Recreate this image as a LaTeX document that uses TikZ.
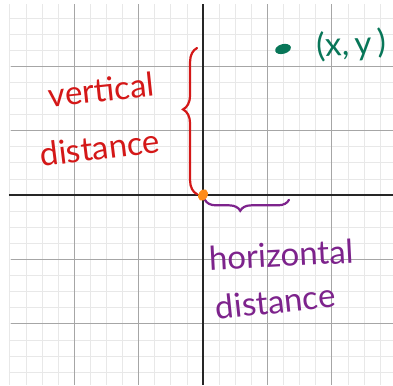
\documentclass[tikz,border=0pt]{standalone}
\usepackage{fontspec}
\setmainfont{Lato}
\usetikzlibrary{decorations.pathreplacing}
\definecolor{penred}{RGB}{212,24,24}
\definecolor{penpurple}{RGB}{125,35,140}
\definecolor{pengreen}{RGB}{8,118,88}
\definecolor{penorange}{RGB}{255,140,26}
\tikzset{
  minorgrid/.style={draw=black!9, line width=0.8pt},
  majorgrid/.style={draw=black!35, line width=0.9pt},
  axisline/.style={draw=black!85, line width=1.4pt},
  handtext/.style={font=\fontsize{33}{33}\selectfont, inner sep=0pt},
  handbrace/.style={line width=2.2pt, line cap=round, decorate},
}
\begin{document}
\begin{tikzpicture}[x=16.1pt,y=16.1pt]
  \useasboundingbox (-12.609,-11.801) rectangle (11.801,12.112);
  \fill[white] (-12.609,-11.801) rectangle (11.801,12.112);
  % grid paper
  \draw[minorgrid, step=1] (-12.05,-11.8) grid (11.8,11.86);
  \draw[majorgrid, step=4] (-11.9,-11.8) grid (11.8,11.86);
  \draw[axisline] (-12.05,0) -- (11.8,0);
  \draw[axisline] (0,-11.8) -- (0,11.86);
  % point
  \fill[pengreen, rotate around={15:(4.97,9.07)}] (4.97,9.07) ellipse (0.5 and 0.3);
  \node[handtext, text=pengreen, rotate=3] (point) at (9.2,9.3) {(x,\,y\,)};
  % vertical
  \draw[penred, handbrace, decoration={brace, amplitude=14pt, aspect=0.58}]
    (-0.37,0.05) -- (-0.37,9.13);
  \node[handtext, text=penred, rotate=6] (vert) at (-6.3,6.55) {vertical};
  \node[handtext, text=penred, rotate=7] (vdist) at (-6.4,2.95) {distance};
  % horizontal
  \draw[penpurple, handbrace, decoration={brace, amplitude=11pt, aspect=0.58}]
    (5.34,-0.3) -- (0.12,-0.3);
  \node[handtext, text=penpurple, rotate=3] (horiz) at (4.85,-3.7) {horizontal};
  \node[handtext, text=penpurple, rotate=6] (hdist) at (4.5,-6.6) {distance};
  % origin
  \fill[penorange, rotate around={60:(0,0)}] (0,0) ellipse (0.38 and 0.28);
\end{tikzpicture}
\end{document}
